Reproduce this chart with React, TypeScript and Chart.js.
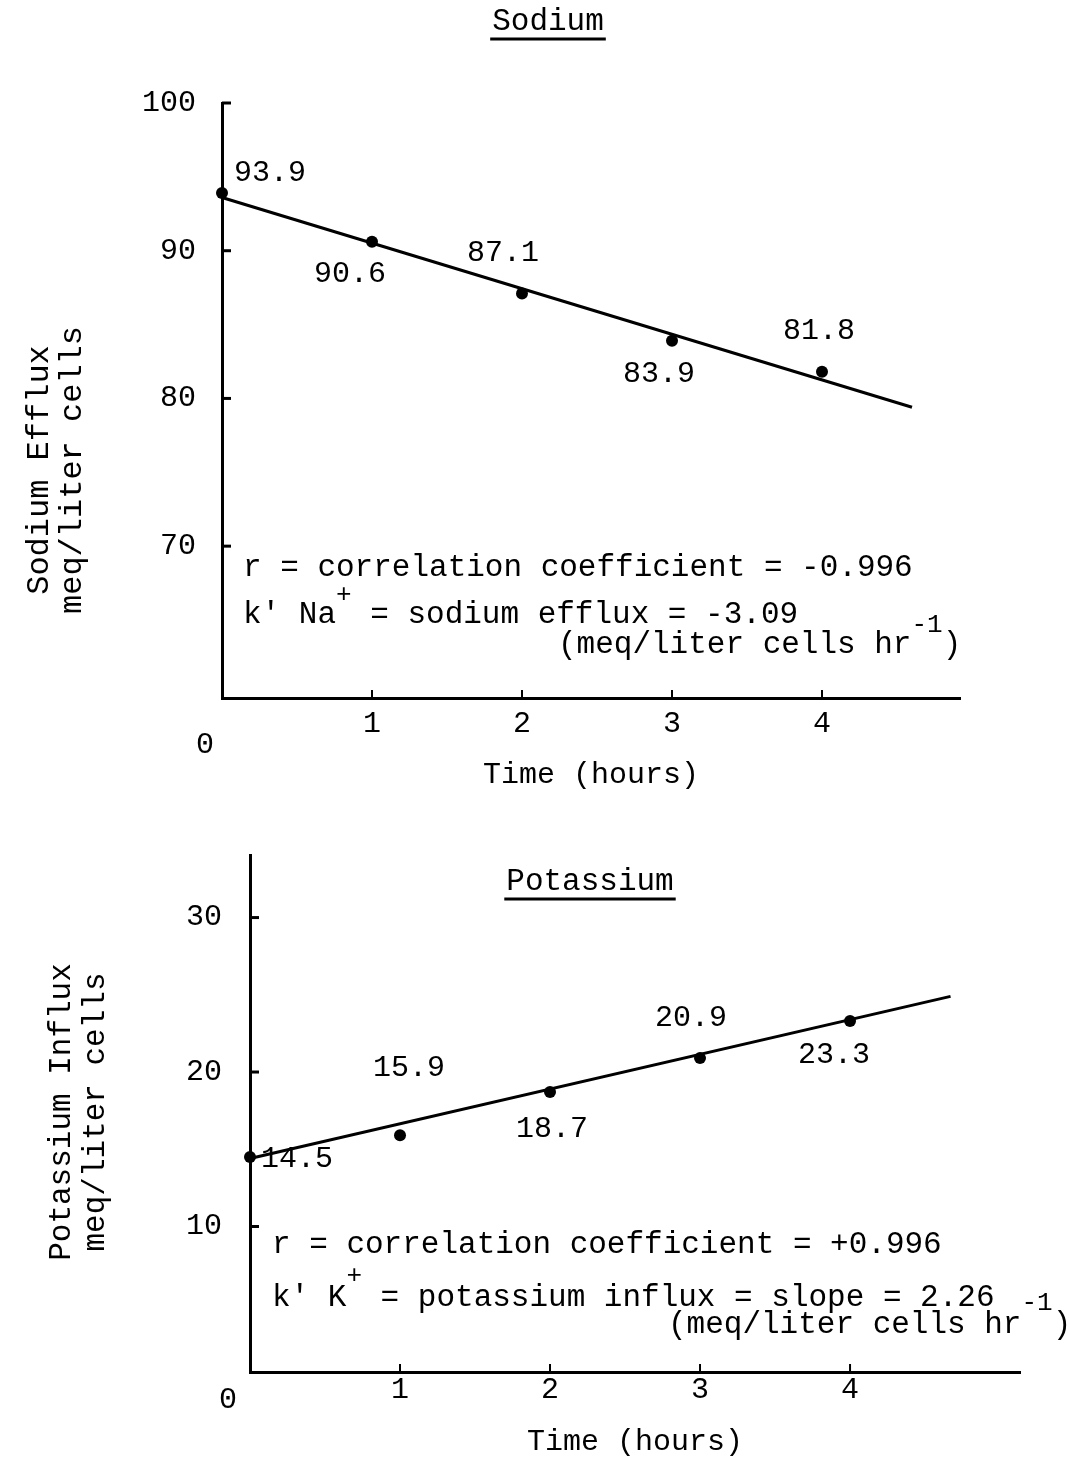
import React, { useEffect, useRef } from "react";
import { Chart, registerables } from "chart.js";

Chart.register(...registerables);

const MONO = '"Liberation Mono", "Courier New", "DejaVu Sans Mono", monospace';

// ---------------- Sodium panel data ----------------
const naTitle = "Sodium";
const naHours = [0, 1, 2, 3, 4];
const naEfflux = [93.9, 90.6, 87.1, 83.9, 81.8];
const naFitHours = [0, 4.6];
const naFitValues = [93.6, 79.4];
const naYTicks = [70, 80, 90, 100];
const naXTicks = [1, 2, 3, 4];
const naOriginLabel = "0";
const naYTitle = ["Sodium Efflux", "meq/liter cells"];
const naXTitle = "Time (hours)";
const naNote1 = [{ text: "r = correlation coefficient = -0.996" }];
const naNote2 = [{ text: "k' Na" }, { text: "+", sup: true }, { text: " = sodium efflux = -3.09" }];
const naNote3 = [{ text: "(meq/liter cells hr" }, { text: "-1", sup: true }, { text: ")" }];

// ---------------- Potassium panel data ----------------
const kTitle = "Potassium";
const kHours = [0, 1, 2, 3, 4];
const kInflux = [14.5, 15.9, 18.7, 20.9, 23.3];
const kFitHours = [0, 4.67];
const kFitValues = [14.4, 24.9];
const kYTicks = [10, 20, 30];
const kXTicks = [1, 2, 3, 4];
const kOriginLabel = "0";
const kYTitle = ["Potassium Influx", "meq/liter cells"];
const kXTitle = "Time (hours)";
const kNote1 = [{ text: "r = correlation coefficient = +0.996" }];
const kNote2 = [{ text: "k' K" }, { text: "+", sup: true }, { text: " = potassium influx = slope = 2.26" }];
const kNote3 = [{ text: "(meq/liter cells hr" }, { text: "-1", sup: true }, { text: ")" }];

type Run = { text: string; sup?: boolean };

type Spec = {
  key: string;
  title: string;
  titlePos: [number, number];
  xs: number[];
  ys: number[];
  fitX: number[];
  fitY: number[];
  xMin: number;
  xMax: number;
  yMin: number;
  yMax: number;
  xTicks: number[];
  yTicks: number[];
  originLabel: string;
  originOffset: [number, number];
  yTitle: string[];
  yTitleX: number[];
  yTitleY: number;
  yTitleSize: number;
  xTitle: string;
  padding: { left: number; right: number; top: number; bottom: number };
  yWidth: number;
  xHeight: number;
  xTickPad: number;
  yTickPad: number;
  labelOffsets: [number, number][];
  notes: { runs: Run[]; x: number; y: number }[];
  noteSize: number;
  supSize: number;
  supRaise: number;
};

const naSpec: Spec = {
  key: "na",
  title: naTitle,
  titlePos: [548, 22],
  xs: naHours,
  ys: naEfflux,
  fitX: naFitHours,
  fitY: naFitValues,
  xMin: 0,
  xMax: 4.92,
  yMin: 59.72,
  yMax: 100,
  xTicks: naXTicks,
  yTicks: naYTicks,
  originLabel: naOriginLabel,
  originOffset: [-17, 47],
  yTitle: naYTitle,
  yTitleX: [40, 73],
  yTitleY: 470,
  yTitleSize: 32,
  xTitle: naXTitle,
  padding: { left: 122, right: 110, top: 103, bottom: 10 },
  yWidth: 100,
  xHeight: 92,
  xTickPad: 11,
  yTickPad: 26,
  labelOffsets: [
    [48, -20],
    [-22, 32],
    [-19, -40],
    [-13, 33],
    [-3, -41],
  ],
  notes: [
    { runs: naNote1, x: 243, y: 568 },
    { runs: naNote2, x: 243, y: 615 },
    { runs: naNote3, x: 558, y: 645 },
  ],
  noteSize: 31,
  supSize: 26,
  supRaise: 20,
};

const kSpec: Spec = {
  key: "k",
  title: kTitle,
  titlePos: [590, 82],
  xs: kHours,
  ys: kInflux,
  fitX: kFitHours,
  fitY: kFitValues,
  xMin: 0,
  xMax: 5.133,
  yMin: 0.58,
  yMax: 34.05,
  xTicks: kXTicks,
  yTicks: kYTicks,
  originLabel: kOriginLabel,
  originOffset: [-22, 28],
  yTitle: kYTitle,
  yTitleX: [62, 96],
  yTitleY: 312,
  yTitleSize: 31,
  xTitle: kXTitle,
  padding: { left: 150, right: 50, top: 55, bottom: 1 },
  yWidth: 100,
  xHeight: 85,
  xTickPad: 3,
  yTickPad: 28,
  labelOffsets: [
    [47, 2],
    [9, -67],
    [2, 37],
    [-9, -40],
    [-16, 34],
  ],
  notes: [
    { runs: kNote1, x: 272, y: 445 },
    { runs: kNote2, x: 272, y: 498 },
    { runs: kNote3, x: 668, y: 525 },
  ],
  noteSize: 31,
  supSize: 26,
  supRaise: 22,
};

function drawRuns(ctx: CanvasRenderingContext2D, x: number, y: number, runs: Run[], size: number, supSize: number, supRaise: number) {
  let cx = x;
  for (const r of runs) {
    const fs = r.sup ? supSize : size;
    ctx.font = `${fs}px ${MONO}`;
    ctx.fillText(r.text, cx, r.sup ? y - supRaise : y);
    cx += ctx.measureText(r.text).width;
  }
}

function makeDecor(spec: Spec) {
  return {
    id: "decor-" + spec.key,
    afterDatasetsDraw(chart: any) {
      const ctx: CanvasRenderingContext2D = chart.ctx;
      const ca = chart.chartArea;
      const xs = chart.scales.x;
      const ys = chart.scales.y;
      ctx.save();
      ctx.fillStyle = "#000";
      ctx.strokeStyle = "#000";
      ctx.textBaseline = "middle";
      ctx.lineCap = "butt";

      // inward tick marks
      ctx.lineWidth = 3;
      spec.yTicks.forEach((v) => {
        const py = ys.getPixelForValue(v);
        ctx.beginPath();
        ctx.moveTo(ca.left, py);
        ctx.lineTo(ca.left + 9, py);
        ctx.stroke();
      });
      ctx.lineWidth = 2;
      spec.xTicks.forEach((v) => {
        const px = xs.getPixelForValue(v);
        ctx.beginPath();
        ctx.moveTo(px, ca.bottom);
        ctx.lineTo(px, ca.bottom - 8);
        ctx.stroke();
      });

      // origin label (broken axis)
      ctx.font = `30px ${MONO}`;
      ctx.textAlign = "center";
      ctx.fillText(spec.originLabel, ca.left + spec.originOffset[0], ca.bottom + spec.originOffset[1]);

      // underlined title
      ctx.font = `31px ${MONO}`;
      ctx.textAlign = "center";
      const [tx, ty] = spec.titlePos;
      ctx.fillText(spec.title, tx, ty);
      const tw = ctx.measureText(spec.title).width;
      ctx.lineWidth = 3;
      ctx.beginPath();
      ctx.moveTo(tx - tw / 2 - 2, ty + 17);
      ctx.lineTo(tx + tw / 2 + 2, ty + 17);
      ctx.stroke();

      // y axis title (two lines, rotated)
      ctx.font = `${spec.yTitleSize}px ${MONO}`;
      spec.yTitle.forEach((line, i) => {
        ctx.save();
        ctx.translate(spec.yTitleX[i], spec.yTitleY);
        ctx.rotate(-Math.PI / 2);
        ctx.fillText(line, 0, 0);
        ctx.restore();
      });

      // point value labels
      const meta = chart.getDatasetMeta(1);
      ctx.font = `30px ${MONO}`;
      ctx.textAlign = "center";
      meta.data.forEach((el: any, i: number) => {
        const off = spec.labelOffsets[i] || [0, -30];
        ctx.fillText(spec.ys[i].toFixed(1), el.x + off[0], el.y + off[1]);
      });

      // annotation notes
      ctx.textAlign = "left";
      spec.notes.forEach((n) => drawRuns(ctx, n.x, n.y, n.runs, spec.noteSize, spec.supSize, spec.supRaise));

      ctx.restore();
    },
  };
}

function buildConfig(spec: Spec): any {
  const tickFont = { family: MONO, size: 30, lineHeight: 1 };
  return {
    type: "scatter",
    data: {
      datasets: [
        {
          label: "Regression line",
          data: spec.fitX.map((x, i) => ({ x, y: spec.fitY[i] })),
          showLine: true,
          borderColor: "#000",
          borderWidth: 3,
          pointRadius: 0,
          fill: false,
          clip: false,
          order: 1,
        },
        {
          label: "Measured",
          data: spec.xs.map((x, i) => ({ x, y: spec.ys[i] })),
          showLine: false,
          pointRadius: 6,
          pointBackgroundColor: "#000",
          pointBorderColor: "#000",
          pointBorderWidth: 0,
          clip: false,
          order: 0,
        },
      ],
    },
    options: {
      responsive: false,
      maintainAspectRatio: false,
      animation: false,
      layout: { padding: spec.padding },
      plugins: {
        legend: { display: false },
        tooltip: { enabled: false },
        title: { display: false },
      },
      scales: {
        x: {
          type: "linear",
          min: spec.xMin,
          max: spec.xMax,
          afterBuildTicks: (s: any) => {
            s.ticks = spec.xTicks.map((v) => ({ value: v }));
          },
          afterFit: (s: any) => {
            s.height = spec.xHeight;
          },
          grid: { display: false, drawTicks: false },
          border: { display: true, color: "#000", width: 3 },
          ticks: {
            color: "#000",
            font: tickFont,
            padding: spec.xTickPad,
            maxRotation: 0,
            autoSkip: false,
          },
          title: {
            display: true,
            text: spec.xTitle,
            color: "#000",
            font: { family: MONO, size: 30, lineHeight: 1 },
            padding: 0,
          },
        },
        y: {
          type: "linear",
          min: spec.yMin,
          max: spec.yMax,
          afterBuildTicks: (s: any) => {
            s.ticks = spec.yTicks.map((v) => ({ value: v }));
          },
          afterFit: (s: any) => {
            s.width = spec.yWidth;
          },
          grid: { display: false, drawTicks: false },
          border: { display: true, color: "#000", width: 3 },
          ticks: {
            color: "#000",
            font: tickFont,
            padding: spec.yTickPad,
            autoSkip: false,
          },
          title: { display: false },
        },
      },
    },
    plugins: [makeDecor(spec)],
  };
}

export default function App() {
  const naRef = useRef<HTMLCanvasElement>(null);
  const kRef = useRef<HTMLCanvasElement>(null);

  useEffect(() => {
    const c1 = new Chart(naRef.current as HTMLCanvasElement, buildConfig(naSpec));
    const c2 = new Chart(kRef.current as HTMLCanvasElement, buildConfig(kSpec));
    return () => {
      c1.destroy();
      c2.destroy();
    };
  }, []);

  return (
    <div style={{ position: "absolute", left: 0, top: 0, width: 1070, height: 1458, background: "#fff" }}>
      <canvas ref={naRef} width={1070} height={800} style={{ position: "absolute", left: 0, top: 0 }} />
      <canvas ref={kRef} width={1070} height={658} style={{ position: "absolute", left: 0, top: 800 }} />
    </div>
  );
}
